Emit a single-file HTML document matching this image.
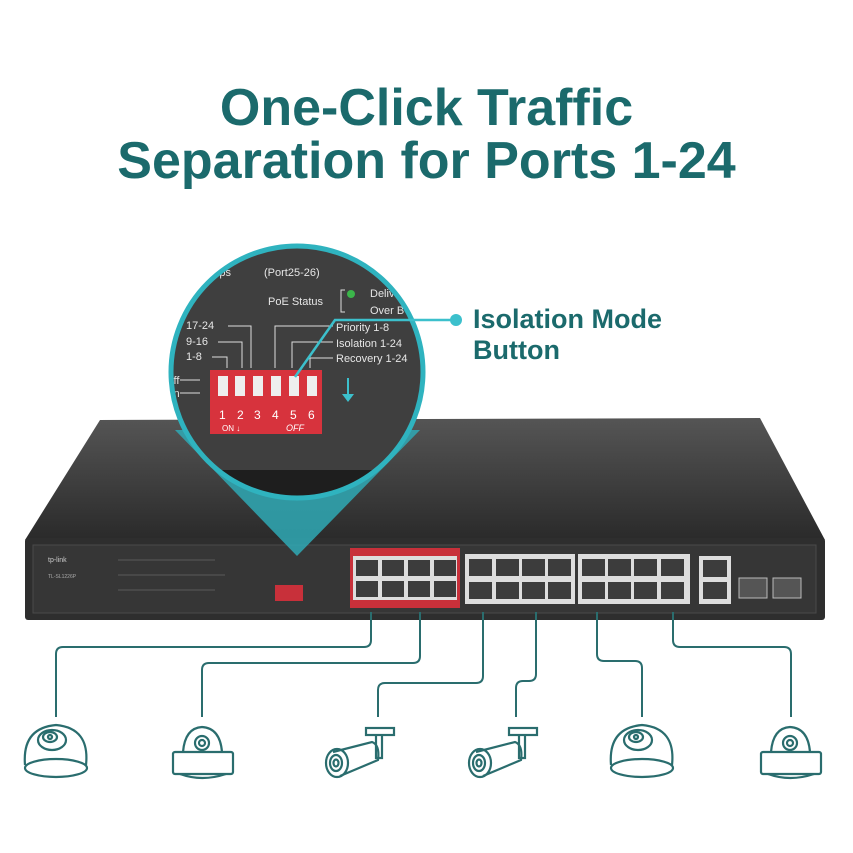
<!DOCTYPE html>
<html><head><meta charset="utf-8"><style>
html,body{margin:0;padding:0;background:#fff;}
body{width:853px;height:853px;overflow:hidden;position:relative;font-family:"Liberation Sans",sans-serif;}
.t{position:absolute;left:0;width:853px;text-align:center;color:#1b6a6c;font-weight:bold;font-size:52px;line-height:56px;}
</style></head><body>
<div class="t" style="top:80px;">One-Click Traffic</div>
<div class="t" style="top:133px;">Separation for Ports 1-24</div>
<svg width="853" height="853" style="position:absolute;left:0;top:0" xmlns="http://www.w3.org/2000/svg">
<defs>
<linearGradient id="tg" x1="0" y1="0" x2="0" y2="1"><stop offset="0" stop-color="#555"/><stop offset="1" stop-color="#2a2a2a"/></linearGradient>
<clipPath id="cc"><circle cx="297" cy="372" r="126"/></clipPath>
</defs>
<polygon points="100,420 760,418 825,540 25,540" fill="url(#tg)"/>
<rect x="25" y="538" width="800" height="82" rx="3" fill="#2e2e2e"/>
<rect x="33" y="545" width="783" height="68" fill="#363636" stroke="#4a4a4a"/>
<text x="48" y="562" font-size="7" fill="#ccc">tp-link</text>
<text x="48" y="578" font-size="5" fill="#aaa">TL-SL1226P</text>
<g stroke="#666" stroke-width="0.8"><line x1="118" y1="560" x2="215" y2="560"/><line x1="118" y1="575" x2="225" y2="575"/><line x1="118" y1="590" x2="215" y2="590"/></g>
<rect x="275" y="585" width="28" height="16" fill="#c8303a"/>
<polygon points="175,430 420,430 297,556" fill="#2fa9b5" opacity="0.85"/>
<rect x="350" y="548" width="110" height="60" fill="#c8303a"/>
<rect x="353" y="556" width="104" height="44" fill="#ddd"/>
<rect x="465" y="554" width="110" height="50" fill="#ddd"/>
<rect x="578" y="554" width="112" height="50" fill="#ddd"/>
<rect x="699" y="556" width="32" height="48" fill="#ddd"/>
<g fill="#3c3c3c">
<rect x="356" y="560" width="22" height="16"/><rect x="382" y="560" width="22" height="16"/><rect x="408" y="560" width="22" height="16"/><rect x="434" y="560" width="22" height="16"/>
<rect x="356" y="581" width="22" height="16"/><rect x="382" y="581" width="22" height="16"/><rect x="408" y="581" width="22" height="16"/><rect x="434" y="581" width="22" height="16"/>
<rect x="469" y="559" width="23" height="17"/><rect x="496" y="559" width="23" height="17"/><rect x="522" y="559" width="23" height="17"/><rect x="548" y="559" width="23" height="17"/>
<rect x="469" y="582" width="23" height="17"/><rect x="496" y="582" width="23" height="17"/><rect x="522" y="582" width="23" height="17"/><rect x="548" y="582" width="23" height="17"/>
<rect x="582" y="559" width="23" height="17"/><rect x="608" y="559" width="23" height="17"/><rect x="634" y="559" width="23" height="17"/><rect x="661" y="559" width="23" height="17"/>
<rect x="582" y="582" width="23" height="17"/><rect x="608" y="582" width="23" height="17"/><rect x="634" y="582" width="23" height="17"/><rect x="661" y="582" width="23" height="17"/>
<rect x="703" y="560" width="24" height="17"/><rect x="703" y="582" width="24" height="17"/>
</g>
<rect x="739" y="578" width="28" height="20" fill="#555" stroke="#bbb"/>
<rect x="773" y="578" width="28" height="20" fill="#555" stroke="#bbb"/>
<g clip-path="url(#cc)">
<rect x="160" y="240" width="280" height="270" fill="#3f3f3f"/>
<rect x="160" y="470" width="280" height="40" fill="#1e1e1e"/>
<g fill="#e6e6e6" font-size="11">
<text x="198" y="276">0Mbps</text><text x="264" y="276">(Port25-26)</text>
<text x="175" y="296">26)</text><text x="268" y="305">PoE Status</text>
<text x="370" y="297">Deliv</text><text x="370" y="314">Over B</text>
<text x="186" y="329">17-24</text><text x="186" y="345">9-16</text><text x="186" y="360">1-8</text>
<text x="336" y="331">Priority 1-8</text><text x="336" y="347">Isolation 1-24</text><text x="336" y="362">Recovery 1-24</text>
<text x="165" y="384">Off</text><text x="165" y="397">On</text>
</g>
<circle cx="351" cy="294" r="4" fill="#3bb54a"/>
<g stroke="#ddd" fill="none" stroke-width="1">
<path d="M228,326H251V368M218,342H242V368M212,357H227V368M333,326H275V368M333,342H292V368M333,358H310V368"/>
<path d="M180,380H200M180,393H200M345,290h-4v22h4"/>
</g>
<rect x="210" y="370" width="112" height="64" fill="#d7333d"/>
<g fill="#eee"><rect x="218" y="376" width="10" height="20"/><rect x="235" y="376" width="10" height="20"/><rect x="253" y="376" width="10" height="20"/><rect x="271" y="376" width="10" height="20"/><rect x="289" y="376" width="10" height="20"/><rect x="307" y="376" width="10" height="20"/></g>
<g fill="#fff" font-size="12"><text x="219" y="419">1</text><text x="237" y="419">2</text><text x="254" y="419">3</text><text x="272" y="419">4</text><text x="290" y="419">5</text><text x="308" y="419">6</text></g>
<text x="222" y="431" font-size="8" fill="#fff">ON ↓</text><text x="286" y="431" font-size="9" font-style="italic" fill="#fff">OFF</text>
<path d="M348,378V398" stroke="#3cc0cc" stroke-width="2"/><path d="M342,394L348,402L354,394Z" fill="#3cc0cc"/>
</g>
<circle cx="297" cy="372" r="126" fill="none" stroke="#2fb3bf" stroke-width="5"/>
<path d="M295,377L335,320H455" stroke="#3cc0cc" stroke-width="2.5" fill="none"/>
<circle cx="456" cy="320" r="6" fill="#3cc0cc"/>
<g stroke="#2a6d6e" stroke-width="2" fill="none">
<path d="M371,612V640q0,7-7,7H63q-7,0-7,7V717"/>
<path d="M420,612V656q0,7-7,7H209q-7,0-7,7V717"/>
<path d="M483,612V676q0,7-7,7H385q-7,0-7,7V717"/>
<path d="M536,612V674q0,7-7,7H523q-7,0-7,7V717"/>
<path d="M597,612V654q0,7,7,7H635q7,0,7,7V717"/>
<path d="M673,612V640q0,7,7,7H784q7,0,7,7V717"/>
</g>
<g stroke="#2a6d6e" stroke-width="2.2" fill="none">
<g id="d1"><path d="M25,765Q22,728 56,725Q90,728 86,765"/><ellipse cx="56" cy="768" rx="31" ry="9"/><ellipse cx="52" cy="740" rx="14" ry="10"/><ellipse cx="50" cy="737" rx="7" ry="5"/><circle cx="50" cy="737" r="2"/></g>
<use href="#d1" transform="translate(586,0)"/>
<g id="d2"><path d="M183,752Q185,728 202,727Q220,728 222,752"/><rect x="173" y="752" width="60" height="22" rx="2"/><path d="M180,774Q202,782 226,774"/><circle cx="202" cy="743" r="7"/><circle cx="202" cy="743" r="3"/></g>
<use href="#d2" transform="translate(588,0)"/>
<g id="b1"><rect x="366" y="728" width="28" height="7"/><path d="M376,735V758H382V735"/><path d="M333,752L372,742Q380,745 378,760L340,776"/><ellipse cx="337" cy="763" rx="11" ry="14"/><ellipse cx="336" cy="763" rx="6" ry="8"/><ellipse cx="336" cy="763" rx="2.5" ry="3.5"/></g>
<use href="#b1" transform="translate(143,0)"/>
</g>
</svg>
<div style="position:absolute;left:473px;top:304px;color:#1b6a6c;font-weight:bold;font-size:27px;line-height:31px;">Isolation Mode<br>Button</div>
</body></html>
